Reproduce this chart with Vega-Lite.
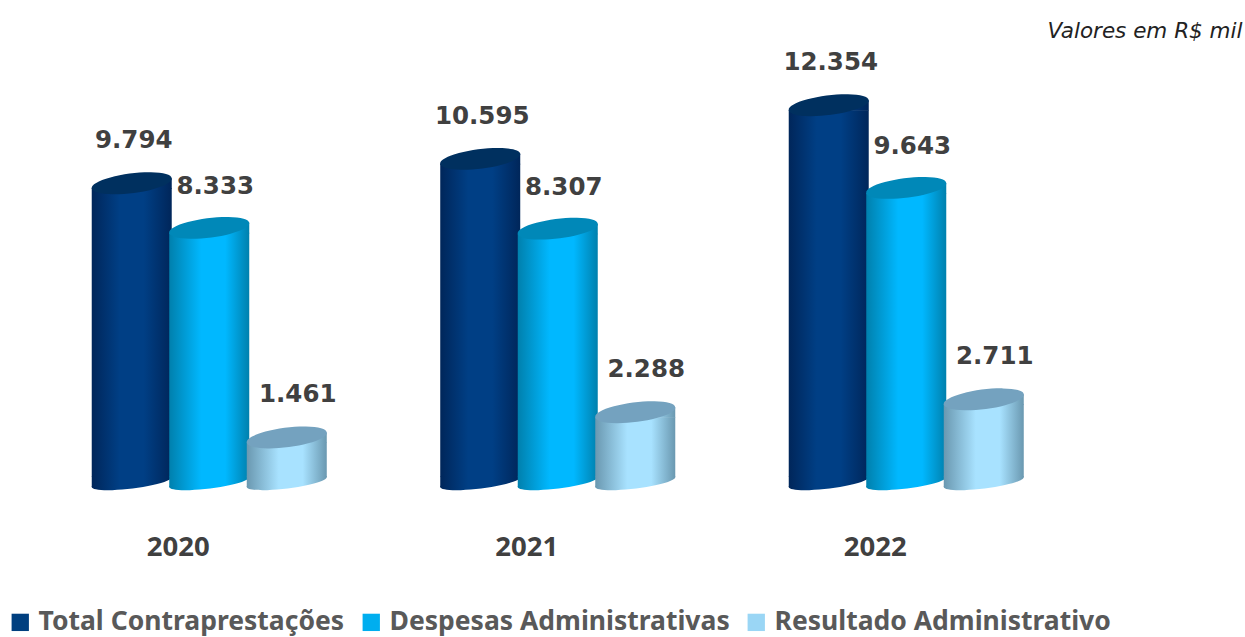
{
"$schema":"https://vega.github.io/schema/vega-lite/v6.json",
"width":1045.5,"height":482,
"autosize":{"type":"none"},
"padding":{"left":35,"top":0,"right":164.5,"bottom":155},
"background":"white",
"view":{"stroke":null},
"title":{"text":"Valores em R$ mil","anchor":"end","frame":"group","dx":162,"offset":-42,"font":"DejaVu Sans","fontStyle":"italic","fontWeight":"normal","fontSize":21.5,"color":"#222222"},
"data":{"values":[
{"ano":"2020","serie":"Total Contraprestações","valor":9794,"rotulo":"9.794"},
{"ano":"2020","serie":"Despesas Administrativas","valor":8333,"rotulo":"8.333"},
{"ano":"2020","serie":"Resultado Administrativo","valor":1461,"rotulo":"1.461"},
{"ano":"2021","serie":"Total Contraprestações","valor":10595,"rotulo":"10.595"},
{"ano":"2021","serie":"Despesas Administrativas","valor":8307,"rotulo":"8.307"},
{"ano":"2021","serie":"Resultado Administrativo","valor":2288,"rotulo":"2.288"},
{"ano":"2022","serie":"Total Contraprestações","valor":12354,"rotulo":"12.354"},
{"ano":"2022","serie":"Despesas Administrativas","valor":9643,"rotulo":"9.643"},
{"ano":"2022","serie":"Resultado Administrativo","valor":2711,"rotulo":"2.711"}
]},
"encoding":{
"x":{"field":"ano","type":"nominal","title":null,"scale":{"paddingInner":0,"paddingOuter":0},"axis":{"domain":false,"ticks":false,"grid":false,"labelAngle":0,"labelOffset":-31,"labelPadding":51,"labelFont":"Noto Sans","labelFontWeight":"bold","labelFontSize":27.5,"labelColor":"#404040"}},
"xOffset":{"field":"serie","type":"nominal","scale":{"domain":["Total Contraprestações","Despesas Administrativas","Resultado Administrativo"],"paddingOuter":0.748,"paddingInner":0}},
"y":{"field":"valor","type":"quantitative","stack":null,"scale":{"domain":[0,15803],"nice":false},"axis":null}
},
"layer":[
{"transform":[{"filter":"datum.serie==='Total Contraprestações'"}],"layer":[
{"mark":{"type":"point","filled":true,"opacity":1,"size":6400,"shape":"M-1,0.125A1.008,0.16 -7.1 1,1 1,-0.125A1.008,0.16 -7.1 1,1 -1,0.125Z","color":{"gradient":"linear","x1":0,"x2":1,"y1":0,"y2":0,"stops":[{"offset":0,"color":"#00265a"},{"offset":0.35,"color":"#003f85"},{"offset":0.65,"color":"#003f85"},{"offset":1,"color":"#00265a"}]}},"encoding":{"y":{"datum":0}}},
{"mark":{"type":"point","filled":true,"opacity":1,"size":6400,"shape":"M-1,-0.14L1,-0.14L1,-0.125L-1,0.125Z","color":{"gradient":"linear","x1":0,"x2":1,"y1":0,"y2":0,"stops":[{"offset":0,"color":"#00265a"},{"offset":0.35,"color":"#003f85"},{"offset":0.65,"color":"#003f85"},{"offset":1,"color":"#00265a"}]}},"encoding":{"y":{"datum":0}}},
{"mark":{"type":"bar","width":80,"yOffset":5,"y2Offset":-5,"color":{"gradient":"linear","x1":0,"x2":1,"y1":0,"y2":0,"stops":[{"offset":0,"color":"#00265a"},{"offset":0.35,"color":"#003f85"},{"offset":0.65,"color":"#003f85"},{"offset":1,"color":"#00265a"}]}},"encoding":{"y2":{"datum":0}}},
{"mark":{"type":"point","filled":true,"opacity":1,"size":6400,"shape":"M-1,0.125L1,-0.125L1,0.14L-1,0.14Z","color":{"gradient":"linear","x1":0,"x2":1,"y1":0,"y2":0,"stops":[{"offset":0,"color":"#00265a"},{"offset":0.35,"color":"#003f85"},{"offset":0.65,"color":"#003f85"},{"offset":1,"color":"#00265a"}]}}},
{"mark":{"type":"point","filled":true,"opacity":1,"size":6400,"shape":"M-1,0.125A1.008,0.24 -7.1 1,1 1,-0.125A1.008,0.24 -7.1 1,1 -1,0.125Z","color":"#00305f"}}
]},
{"transform":[{"filter":"datum.serie==='Despesas Administrativas'"}],"layer":[
{"mark":{"type":"point","filled":true,"opacity":1,"size":6400,"shape":"M-1,0.125A1.008,0.16 -7.1 1,1 1,-0.125A1.008,0.16 -7.1 1,1 -1,0.125Z","color":{"gradient":"linear","x1":0,"x2":1,"y1":0,"y2":0,"stops":[{"offset":0,"color":"#0080ad"},{"offset":0.4,"color":"#00b8ff"},{"offset":0.7,"color":"#00b8ff"},{"offset":1,"color":"#0080ad"}]}},"encoding":{"y":{"datum":0}}},
{"mark":{"type":"point","filled":true,"opacity":1,"size":6400,"shape":"M-1,-0.14L1,-0.14L1,-0.125L-1,0.125Z","color":{"gradient":"linear","x1":0,"x2":1,"y1":0,"y2":0,"stops":[{"offset":0,"color":"#0080ad"},{"offset":0.4,"color":"#00b8ff"},{"offset":0.7,"color":"#00b8ff"},{"offset":1,"color":"#0080ad"}]}},"encoding":{"y":{"datum":0}}},
{"mark":{"type":"bar","width":80,"yOffset":5,"y2Offset":-5,"color":{"gradient":"linear","x1":0,"x2":1,"y1":0,"y2":0,"stops":[{"offset":0,"color":"#0080ad"},{"offset":0.4,"color":"#00b8ff"},{"offset":0.7,"color":"#00b8ff"},{"offset":1,"color":"#0080ad"}]}},"encoding":{"y2":{"datum":0}}},
{"mark":{"type":"point","filled":true,"opacity":1,"size":6400,"shape":"M-1,0.125L1,-0.125L1,0.14L-1,0.14Z","color":{"gradient":"linear","x1":0,"x2":1,"y1":0,"y2":0,"stops":[{"offset":0,"color":"#0080ad"},{"offset":0.4,"color":"#00b8ff"},{"offset":0.7,"color":"#00b8ff"},{"offset":1,"color":"#0080ad"}]}}},
{"mark":{"type":"point","filled":true,"opacity":1,"size":6400,"shape":"M-1,0.125A1.008,0.24 -7.1 1,1 1,-0.125A1.008,0.24 -7.1 1,1 -1,0.125Z","color":"#0088b8"}}
]},
{"transform":[{"filter":"datum.serie==='Resultado Administrativo'"}],"layer":[
{"mark":{"type":"point","filled":true,"opacity":1,"size":6400,"shape":"M-1,0.125A1.008,0.16 -7.1 1,1 1,-0.125A1.008,0.16 -7.1 1,1 -1,0.125Z","color":{"gradient":"linear","x1":0,"x2":1,"y1":0,"y2":0,"stops":[{"offset":0,"color":"#6a98b0"},{"offset":0.4,"color":"#a8e2ff"},{"offset":0.7,"color":"#a8e2ff"},{"offset":1,"color":"#6a98b0"}]}},"encoding":{"y":{"datum":0}}},
{"mark":{"type":"point","filled":true,"opacity":1,"size":6400,"shape":"M-1,-0.14L1,-0.14L1,-0.125L-1,0.125Z","color":{"gradient":"linear","x1":0,"x2":1,"y1":0,"y2":0,"stops":[{"offset":0,"color":"#6a98b0"},{"offset":0.4,"color":"#a8e2ff"},{"offset":0.7,"color":"#a8e2ff"},{"offset":1,"color":"#6a98b0"}]}},"encoding":{"y":{"datum":0}}},
{"mark":{"type":"bar","width":80,"yOffset":5,"y2Offset":-5,"color":{"gradient":"linear","x1":0,"x2":1,"y1":0,"y2":0,"stops":[{"offset":0,"color":"#6a98b0"},{"offset":0.4,"color":"#a8e2ff"},{"offset":0.7,"color":"#a8e2ff"},{"offset":1,"color":"#6a98b0"}]}},"encoding":{"y2":{"datum":0}}},
{"mark":{"type":"point","filled":true,"opacity":1,"size":6400,"shape":"M-1,0.125L1,-0.125L1,0.14L-1,0.14Z","color":{"gradient":"linear","x1":0,"x2":1,"y1":0,"y2":0,"stops":[{"offset":0,"color":"#6a98b0"},{"offset":0.4,"color":"#a8e2ff"},{"offset":0.7,"color":"#a8e2ff"},{"offset":1,"color":"#6a98b0"}]}}},
{"mark":{"type":"point","filled":true,"opacity":1,"size":6400,"shape":"M-1,0.125A1.008,0.24 -7.1 1,1 1,-0.125A1.008,0.24 -7.1 1,1 -1,0.125Z","color":"#74a2bf"}}
]},
{"transform":[{"filter":"datum.serie==='Total Contraprestações'"}],"mark":{"type":"text","font":"DejaVu Sans","fontWeight":"bold","fontSize":24.5,"color":"#404040","dx":2,"dy":-42},"encoding":{"text":{"field":"rotulo"}}},
{"transform":[{"filter":"datum.serie==='Despesas Administrativas'"}],"mark":{"type":"text","font":"DejaVu Sans","fontWeight":"bold","fontSize":24.5,"color":"#404040","dx":6,"dy":-41},"encoding":{"text":{"field":"rotulo"}}},
{"transform":[{"filter":"datum.serie==='Resultado Administrativo'"}],"mark":{"type":"text","font":"DejaVu Sans","fontWeight":"bold","fontSize":24.5,"color":"#404040","dx":11,"dy":-42},"encoding":{"text":{"field":"rotulo"}}},
{"mark":{"type":"point","filled":true,"size":0,"opacity":0},"encoding":{"color":{"field":"serie","type":"nominal","scale":{"domain":["Total Contraprestações","Despesas Administrativas","Resultado Administrativo"],"range":["#003f7f","#00aeef","#9ad6f5"]},"legend":{"orient":"none","legendX":-28,"legendY":609,"direction":"horizontal","title":null,"symbolType":"square","symbolSize":300,"symbolOpacity":1,"labelFont":"Noto Sans","labelFontWeight":"bold","labelFontSize":26.5,"labelColor":"#595959","labelLimit":500,"columnPadding":13,"labelOffset":5,"symbolStrokeWidth":0}}}}
]
}
